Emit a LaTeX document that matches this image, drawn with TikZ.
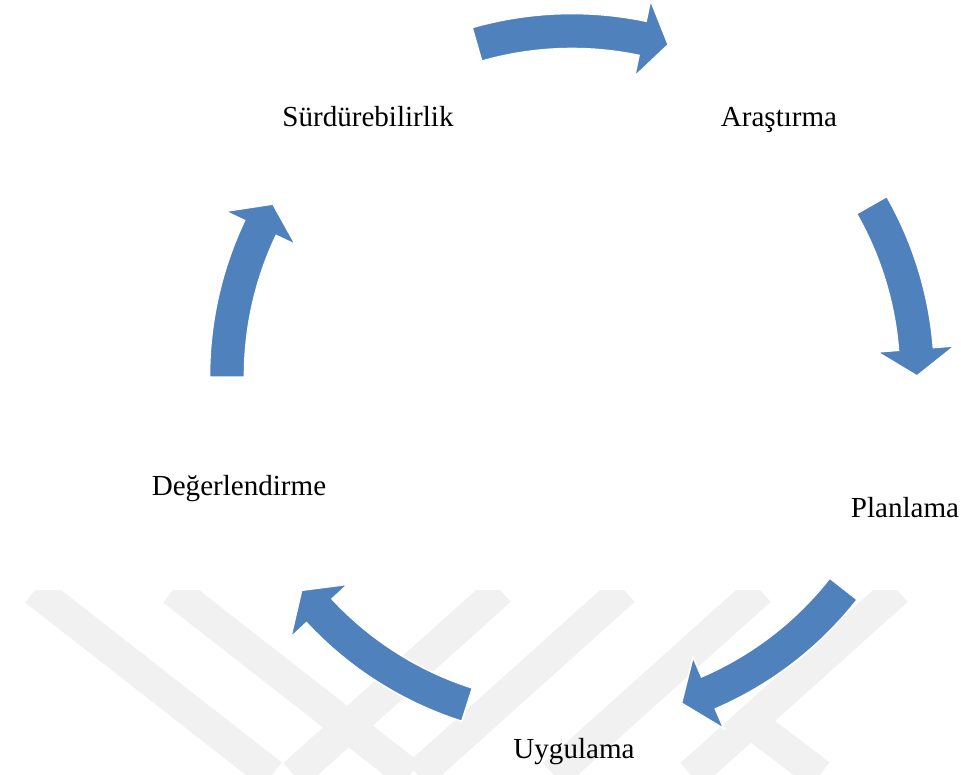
\documentclass[tikz,border=0pt]{standalone}
\usepackage{fontspec}
\setmainfont{Liberation Serif}
\usepackage{xcolor}
\usepackage{tikz}
\usetikzlibrary{positioning}

\definecolor{cycleblue}{RGB}{79,129,189}
\definecolor{wmarkgray}{RGB}{241,241,241}

\begin{document}
\begin{tikzpicture}[x=0.75pt,y=0.75pt,
    cyclearrow/.style={fill=cycleblue, draw=white, line width=1.2pt, line join=miter},
    steplabel/.style={anchor=base, inner sep=0pt, font=\fontsize{21.8}{26}\selectfont},
    wmark/.style={draw=wmarkgray, line width=24pt}]
            \useasboundingbox (-572,-399) rectangle (389,376);
            \begin{scope}
                \clip (-572,-214) rectangle (389,-399);
                \draw[wmark] (-537,-214) -- (-300,-399);
                \draw[wmark] (-399,-214) -- (-162,-399);
                \draw[wmark] (-72,-214) -- (-278,-399);
                \draw[wmark] (52,-214) -- (-154,-399);
                \draw[wmark] (188,-214) -- (-18,-399);
                \draw[wmark] (325,-214) -- (119,-399);
                \draw[wmark] (178,-346) -- (248,-399);
            \end{scope}
            \foreach \a/\b/\t in {106/78.2/73.8, 29.7/4.5/0, -38.1/-66.7/-71.5, -107.7/-137.1/-141.6, 180.2/154.6/150.1}
                \draw[cyclearrow] (\a:362.5) arc[start angle=\a, end angle=\b, radius=362.5]
                    -- (\b:384) -- (\t:345) -- (\b:306) -- (\b:327.5)
                    arc[start angle=\b, end angle=\a, radius=327.5] -- cycle;
            \node[steplabel] (sur) at (-204,249) {Sürdürebilirlik};
            \node[steplabel] (ara) at (207,249) {Araştırma};
            \node[steplabel] (plan) at (333,-141) {Planlama};
            \node[steplabel] (uyg) at (2,-382) {Uygulama};
            \node[steplabel] (deg) at (-333,-119) {Değerlendirme};
        \end{tikzpicture}
\end{document}
